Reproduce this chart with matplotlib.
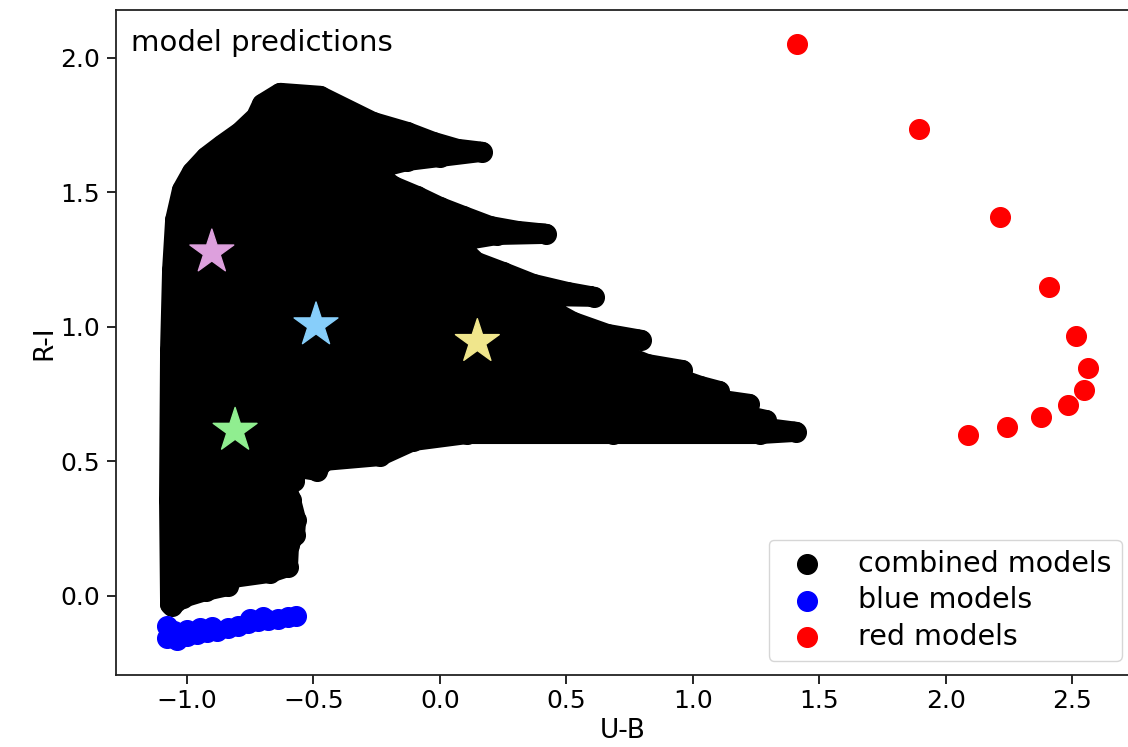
import numpy as np
import matplotlib
matplotlib.use("Agg")
from matplotlib import pyplot as plt
from matplotlib.patches import Polygon

# outline of the combined model grid (U-B, R-I), traced clockwise from bottom left
combined_ub = [-1.067, -1.071, -1.067, -1.059, -1.047, -1.020, -0.980, -0.925, -0.862, -0.790,
               -0.727, -0.703, -0.632, -0.474, -0.265, -0.130, -0.027, 0.068, 0.166, 0.000,
               -0.130, -0.268, -0.185, -0.091, 0.000, 0.091, 0.198, 0.305, 0.420, 0.226,
               0.060, 0.143, 0.250, 0.368, 0.503, 0.609, 0.416, 0.396, 0.526, 0.661,
               0.795, 0.673, 0.681, 0.819, 0.957, 0.870, 1.028, 1.104, 1.028, 1.222,
               1.127, 1.289, 1.226, 1.408, 1.266, 0.684, 0.107, -0.106, -0.237, -0.458,
               -0.486, -0.561, -0.577, -0.609, -0.589, -0.569, -0.573, -0.597, -0.601, -0.672,
               -0.818, -0.838, -0.925, -1.016, -1.059]
combined_ri = [-0.030, 0.357, 0.914, 1.212, 1.398, 1.509, 1.576, 1.632, 1.677, 1.725,
               1.781, 1.829, 1.870, 1.859, 1.762, 1.725, 1.688, 1.662, 1.651, 1.632,
               1.617, 1.584, 1.524, 1.487, 1.446, 1.413, 1.375, 1.357, 1.346, 1.342,
               1.316, 1.242, 1.204, 1.160, 1.130, 1.112, 1.115, 1.086, 1.019, 0.974,
               0.952, 0.944, 0.914, 0.862, 0.840, 0.833, 0.781, 0.762, 0.740, 0.714,
               0.688, 0.654, 0.632, 0.610, 0.602, 0.602, 0.602, 0.576, 0.520, 0.502,
               0.465, 0.476, 0.428, 0.413, 0.357, 0.283, 0.227, 0.190, 0.108, 0.086,
               0.067, 0.037, 0.019, -0.007, -0.037]

blue_ub = [-1.08, -1.08, -1.04, -1.00, -0.96, -0.92, -0.88, -0.84, -0.80, -0.76,
           -0.72, -0.68, -0.64, -0.60, -0.57, -1.05, -1.00, -0.95, -0.90, -0.75, -0.70]
blue_ri = [-0.11, -0.155, -0.165, -0.15, -0.14, -0.135, -0.13, -0.12, -0.11, -0.10,
           -0.095, -0.09, -0.085, -0.08, -0.075, -0.13, -0.125, -0.12, -0.115, -0.085, -0.08]

red_ub = [1.413, 1.896, 2.215, 2.408, 2.517, 2.562, 2.549, 2.482, 2.376, 2.241, 2.090]
red_ri = [2.051, 1.734, 1.409, 1.149, 0.968, 0.848, 0.767, 0.709, 0.664, 0.628, 0.597]

# observed clusters
star_ub = [-0.902, -0.490, 0.148, -0.810]
star_ri = [1.278, 1.007, 0.945, 0.615]
star_colors = ["plum", "lightskyblue", "khaki", "lightgreen"]

fig = plt.figure(figsize=(11.28, 7.47), dpi=100)
ax = fig.add_axes([116 / 1128, 72 / 747, 1014 / 1128, 665.5 / 747])

dot = 200
ax.add_patch(Polygon(np.column_stack([combined_ub, combined_ri]), closed=True,
                     facecolor="black", edgecolor="black", linewidth=14.5,
                     joinstyle="round", zorder=1))
ax.scatter(combined_ub, combined_ri, s=dot, c="black", label="combined models", zorder=2)
ax.scatter(blue_ub, blue_ri, s=dot, c="blue", label="blue models", zorder=3)
ax.scatter(red_ub, red_ri, s=dot, c="red", label="red models", zorder=3)
ax.scatter(star_ub, star_ri, s=1100, marker="*", c=star_colors, zorder=4)

ax.set_xlim(-1.281, 2.729)
ax.set_ylim(-0.294, 2.180)
ax.set_xticks([-1.0, -0.5, 0.0, 0.5, 1.0, 1.5, 2.0, 2.5])
ax.set_yticks([0.0, 0.5, 1.0, 1.5, 2.0])
ax.tick_params(labelsize=18, length=6.5, width=1.2)
ax.tick_params(axis="y", pad=5)
for sp in ax.spines.values():
    sp.set_linewidth(1.3)
    sp.set_color("#222222")

ax.set_xlabel("U-B", fontsize=19, labelpad=4)
ax.set_ylabel("R-I", fontsize=19, labelpad=2)
ax.text(0.015, 0.95, "model predictions", transform=ax.transAxes,
        fontsize=21, va="center", ha="left")

ax.legend(loc="lower right", fontsize=20.5, labelspacing=0.3, borderaxespad=0.5,
          borderpad=0.35, bbox_to_anchor=(1.006, 0.0), framealpha=0.8)

fig.savefig("out.png", dpi=100)
